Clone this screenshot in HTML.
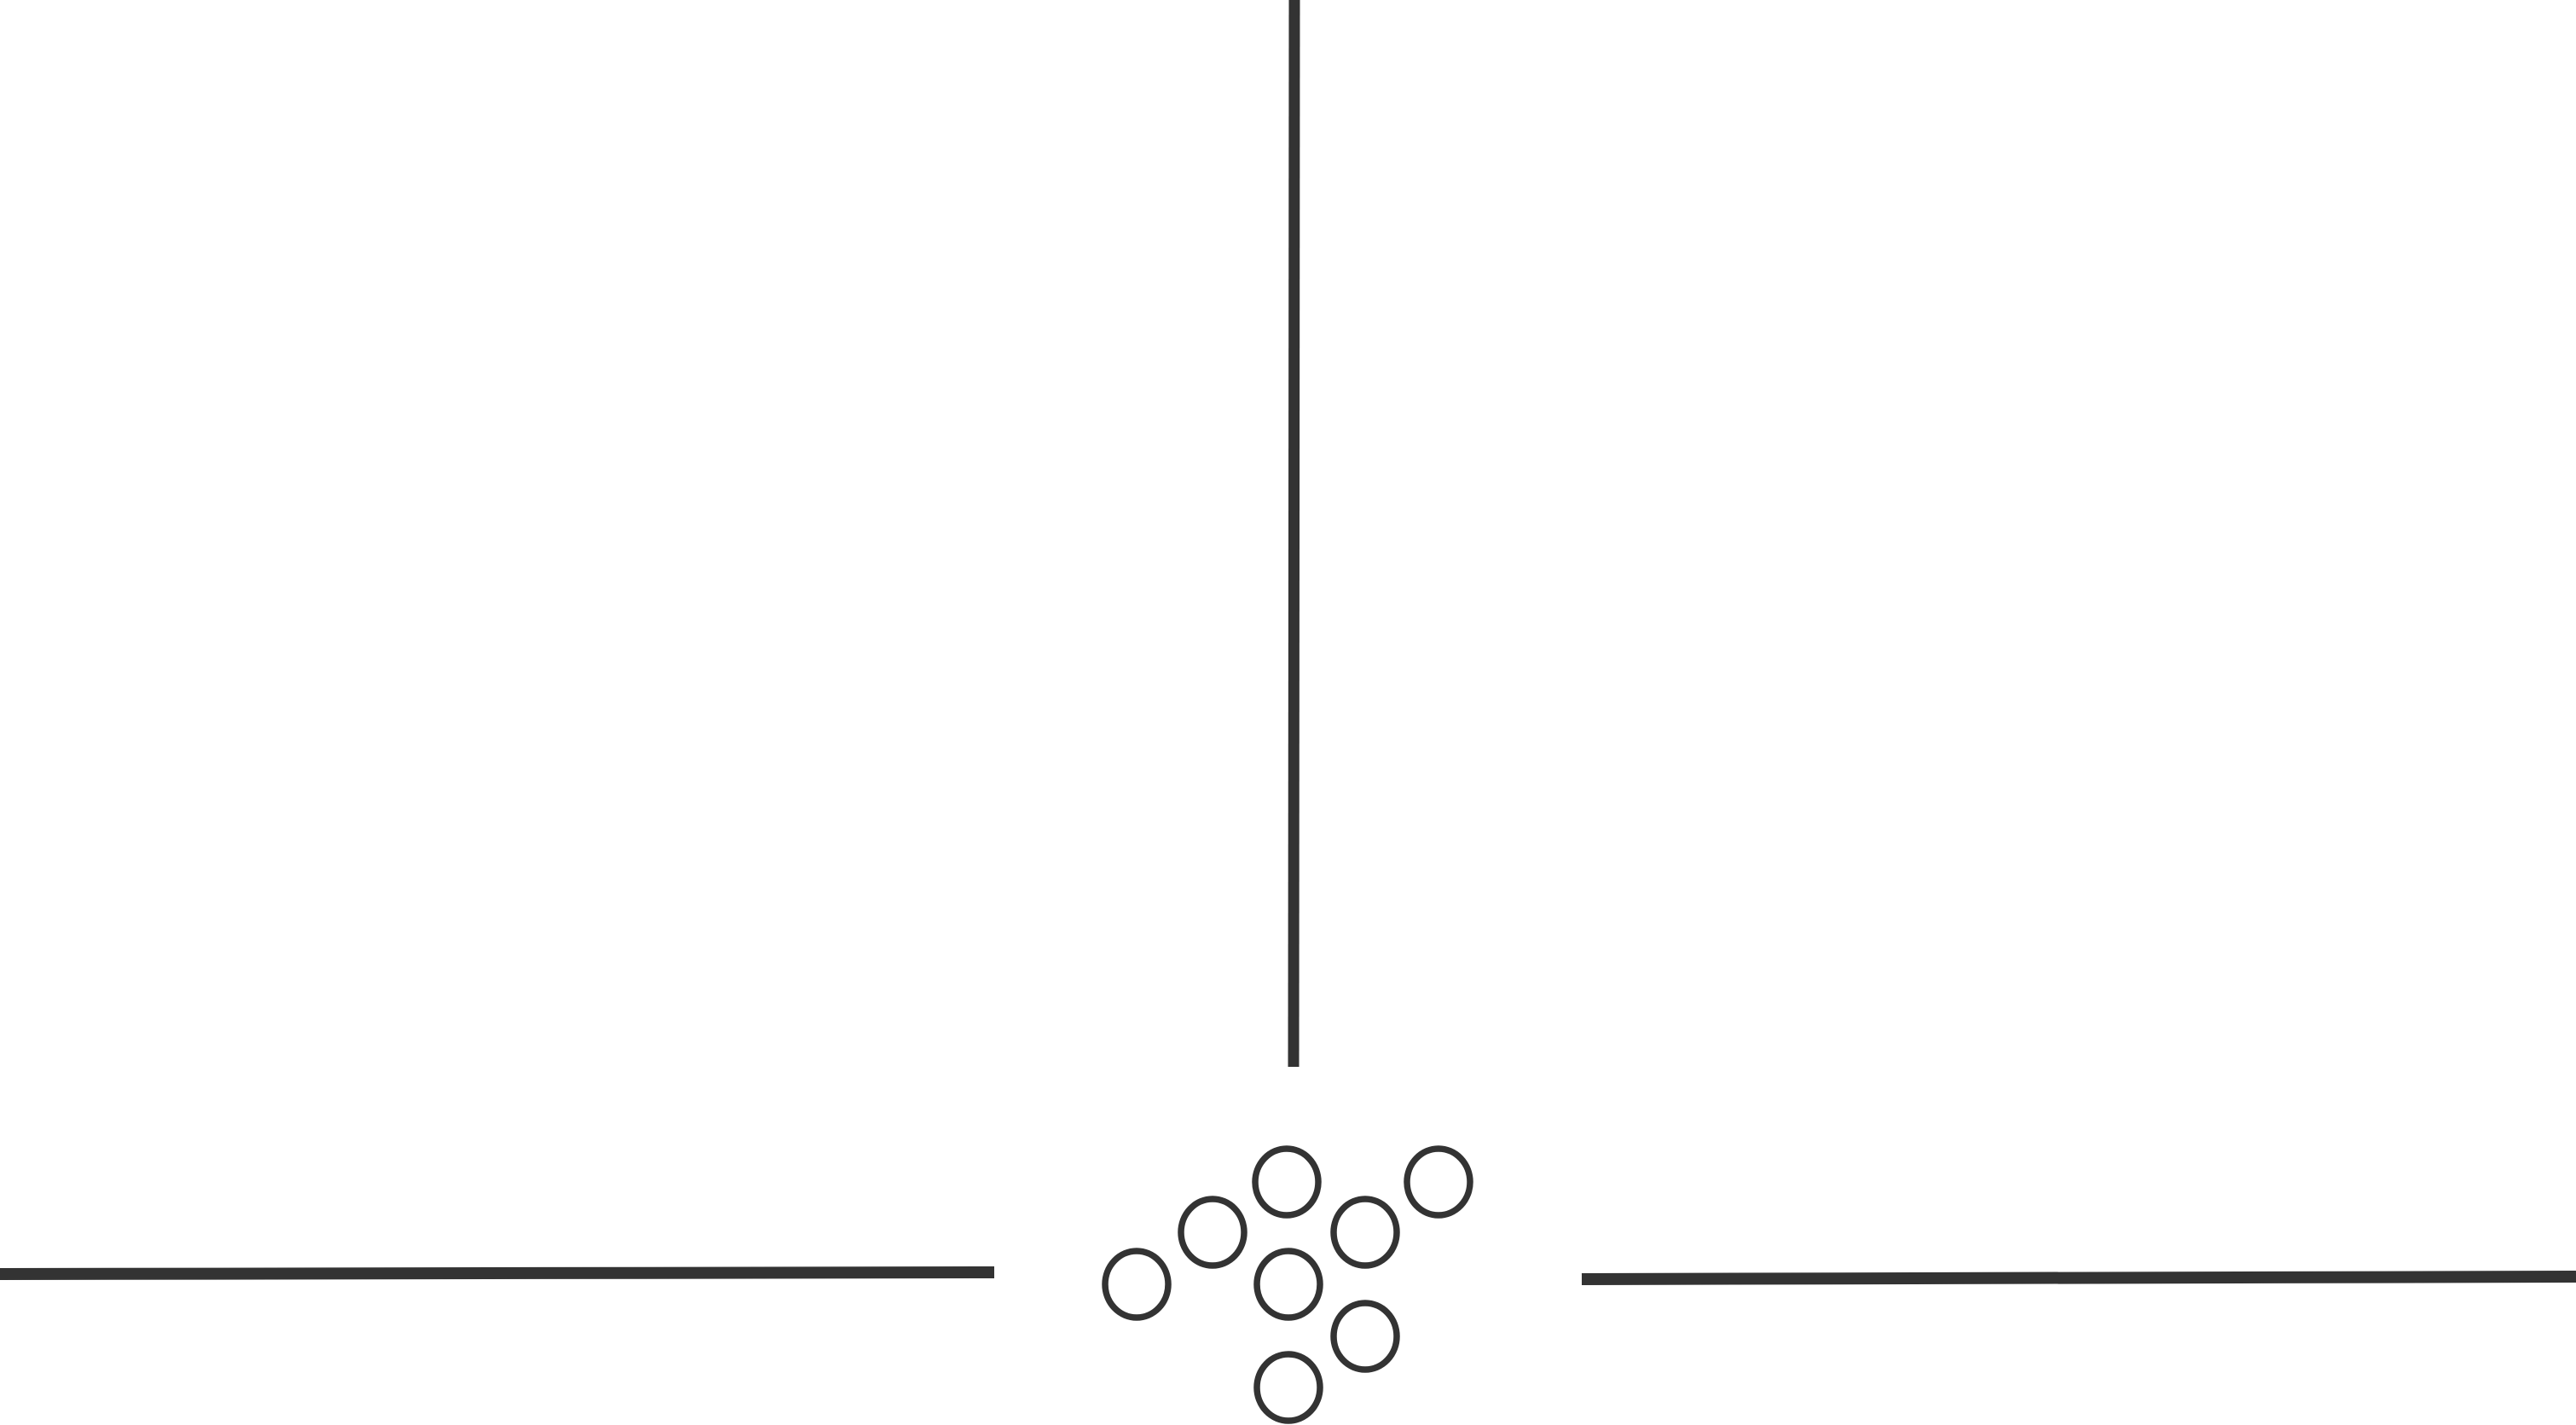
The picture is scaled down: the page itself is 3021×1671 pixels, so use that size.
<!DOCTYPE html>
<html><head><meta charset="utf-8"><style>html,body{margin:0;padding:0;background:#fff;}svg{display:block;}</style></head>
<body>
<svg id="chart" width="3021" height="1671" viewBox="0 0 3021 1671" xmlns="http://www.w3.org/2000/svg">
<line x1="1518" y1="0" x2="1517" y2="1251" stroke="#333" stroke-width="13"/>
<line x1="0" y1="1494" x2="1166" y2="1492" stroke="#333" stroke-width="14"/>
<line x1="1855" y1="1500" x2="3021" y2="1497" stroke="#333" stroke-width="14"/>
<g id="points"></g>
</svg>
<script>
const xs = [1333, 1422, 1509, 1511, 1601, 1687, 1601, 1511];
const ys = [1506, 1445, 1386, 1506, 1445, 1386, 1567, 1627];
const g = document.getElementById('points');
for (let i = 0; i < xs.length; i++) {
  const c = document.createElementNS('http://www.w3.org/2000/svg', 'ellipse');
  c.setAttribute('cx', xs[i]);
  c.setAttribute('cy', ys[i]);
  c.setAttribute('rx', 37);
  c.setAttribute('ry', 39);
  c.setAttribute('fill', 'none');
  c.setAttribute('stroke', '#333');
  c.setAttribute('stroke-width', 7.5);
  
  
  g.appendChild(c);
}
</script>
</body></html>
